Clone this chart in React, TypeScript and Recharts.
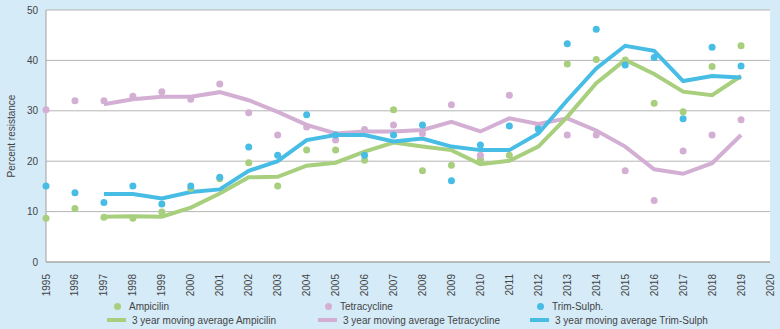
import { ComposedChart, Line, XAxis, YAxis, CartesianGrid } from 'recharts';

const years = [1995, 1996, 1997, 1998, 1999, 2000, 2001, 2002, 2003, 2004, 2005, 2006, 2007, 2008, 2009, 2010, 2011, 2012, 2013, 2014, 2015, 2016, 2017, 2018, 2019, 2020];

const ampicillin = [8.7, 10.6, 8.9, 8.7, 9.9, 14.6, 16.5, 19.7, 15.1, 22.2, 22.2, 20.2, 30.2, 18.1, 19.2, 20.4, 21.2, 26.6, 39.3, 40.2, 40.1, 31.5, 29.8, 38.8, 42.9, null];
const tetracycline = [30.2, 32.0, 32.0, 32.9, 33.8, 32.3, 35.3, 29.6, 25.2, 26.8, 24.2, 26.3, 27.2, 25.5, 31.2, 21.2, 33.1, 27.0, 25.2, 25.2, 18.1, 12.2, 22.0, 25.2, 28.2, null];
const trimSulph = [15.1, 13.75, 11.8, 15.1, 11.5, 15.1, 16.8, 22.8, 21.2, 29.2, 25.2, 21.2, 25.2, 27.2, 16.1, 23.2, 27.0, 26.4, 43.3, 46.2, 39.1, 40.6, 28.4, 42.6, 38.9, null];

const maAmpicillin = [null, null, 9.0, 9.1, 9.0, 10.8, 13.6, 16.8, 16.9, 19.1, 19.7, 21.9, 23.7, 22.9, 22.2, 19.4, 20.1, 22.9, 28.8, 35.5, 40.1, 37.3, 33.8, 33.1, 36.9, null];
const maTetracycline = [null, null, 31.3, 32.3, 32.8, 32.8, 33.7, 32.1, 29.8, 27.2, 25.5, 25.9, 25.9, 26.2, 27.8, 25.9, 28.5, 27.4, 28.5, 26.1, 22.9, 18.4, 17.5, 19.6, 25.2, null];
const maTrimSulph = [null, null, 13.5, 13.5, 12.6, 13.9, 14.4, 18.1, 20.0, 24.2, 25.2, 25.2, 23.9, 24.5, 22.9, 22.2, 22.2, 25.5, 32.1, 38.4, 42.9, 41.9, 35.9, 36.9, 36.6, null];

const yTicks = [0, 10, 20, 30, 40, 50];

const GREEN = '#a8cf7d';
const PINK = '#d4afd4';
const BLUE = '#47bde6';
const BG = '#d5ebf8';
const FONT = '"Liberation Sans", Arial, sans-serif';

const data = years.map((year, i) => ({
  year,
  amp: ampicillin[i],
  tet: tetracycline[i],
  tri: trimSulph[i],
  maAmp: maAmpicillin[i],
  maTet: maTetracycline[i],
  maTri: maTrimSulph[i],
}));

const YearTick = (props: any) => {
  const { x, y, payload } = props;
  return (
    <g transform={`translate(${x},${y})`}>
      <text
        transform="rotate(-90)"
        x={-4}
        y={0}
        dy="0.35em"
        textAnchor="end"
        fontSize={10}
        fill="#444"
        fontFamily={FONT}
      >
        {payload.value}
      </text>
    </g>
  );
};

const legendItems = [
  { label: 'Ampicilin', color: GREEN, x: 112, type: 'dot' },
  { label: 'Tetracycline', color: PINK, x: 323, type: 'dot' },
  { label: 'Trim-Sulph.', color: BLUE, x: 535, type: 'dot' },
  { label: '3 year moving average Ampicilin', color: GREEN, x: 107, type: 'line' },
  { label: '3 year moving average Tetracycline', color: PINK, x: 318, type: 'line' },
  { label: '3 year moving average Trim-Sulph', color: BLUE, x: 530, type: 'line' },
];

const App = () => {
  return (
    <div style={{ position: 'fixed', left: 0, top: 0, width: 780, height: 329, background: BG, fontFamily: FONT }}>
      <ComposedChart width={780} height={329} data={data} margin={{ top: 10, right: 10, left: 10, bottom: 37 }}>
        <CartesianGrid vertical={false} fill="#ffffff" stroke="#b5b5b5" strokeWidth={1} />
        <XAxis
          dataKey="year"
          type="number"
          domain={[1995, 2020]}
          ticks={years}
          interval={0}
          height={30}
          tick={<YearTick />}
          tickLine={false}
          axisLine={{ stroke: '#a0a0a0' }}
        />
        <YAxis
          domain={[0, 50]}
          ticks={yTicks}
          width={36}
          tickLine={false}
          axisLine={{ stroke: '#a0a0a0' }}
          tick={{ fontSize: 10, fill: '#444', fontFamily: FONT }}
          label={{ value: 'Percent resistance', angle: -90, position: 'insideLeft', offset: 0, dx: 1, style: { fontSize: 10, fill: '#444', fontFamily: FONT, textAnchor: 'middle' } }}
        />
        <Line dataKey="amp" stroke="none" dot={{ r: 3.5, fill: GREEN, stroke: 'none' }} activeDot={false} isAnimationActive={false} />
        <Line dataKey="tet" stroke="none" dot={{ r: 3.5, fill: PINK, stroke: 'none' }} activeDot={false} isAnimationActive={false} />
        <Line dataKey="tri" stroke="none" dot={{ r: 3.5, fill: BLUE, stroke: 'none' }} activeDot={false} isAnimationActive={false} />
        <Line dataKey="maTet" type="linear" stroke={PINK} strokeWidth={4} dot={false} activeDot={false} isAnimationActive={false} />
        <Line dataKey="maAmp" type="linear" stroke={GREEN} strokeWidth={4} dot={false} activeDot={false} isAnimationActive={false} />
        <Line dataKey="maTri" type="linear" stroke={BLUE} strokeWidth={4} dot={false} activeDot={false} isAnimationActive={false} />
      </ComposedChart>
      {legendItems.map((item, i) => {
        const top = i < 3 ? 299 : 313;
        return (
          <div
            key={item.label}
            style={{ position: 'absolute', left: item.x, top, height: 14, display: 'flex', alignItems: 'center', fontSize: 10, color: '#444', whiteSpace: 'nowrap' }}
          >
            {item.type === 'dot' ? (
              <span style={{ display: 'inline-block', width: 7, height: 7, borderRadius: '50%', background: item.color, margin: '0 8px 0 2px' }} />
            ) : (
              <span style={{ display: 'inline-block', width: 19, height: 4, background: item.color, marginRight: 6 }} />
            )}
            {item.label}
          </div>
        );
      })}
    </div>
  );
};

export default App;
